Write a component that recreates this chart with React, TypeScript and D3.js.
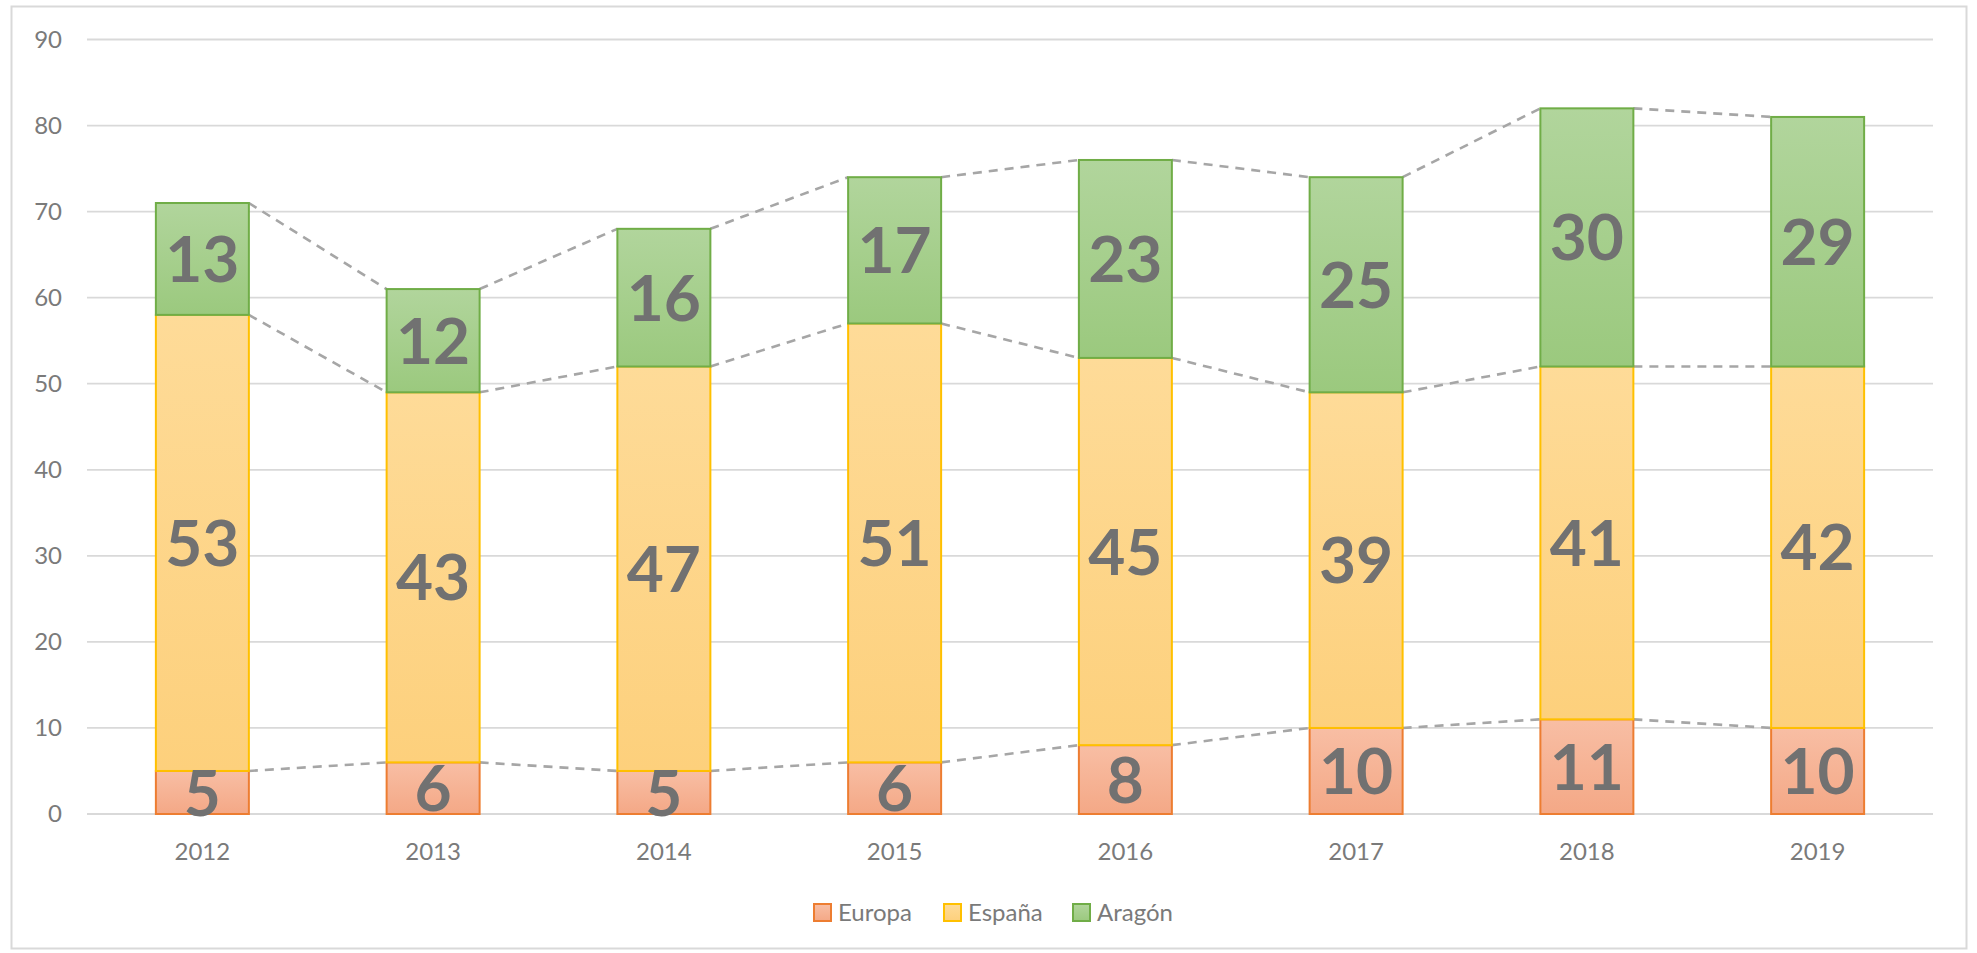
import { useEffect, useRef } from 'react';
import * as d3 from 'd3';

const years = ['2012', '2013', '2014', '2015', '2016', '2017', '2018', '2019'];
const europa = [5, 6, 5, 6, 8, 10, 11, 10];
const espana = [53, 43, 47, 51, 45, 39, 41, 42];
const aragon = [13, 12, 16, 17, 23, 25, 30, 29];
const yTicks = [0, 10, 20, 30, 40, 50, 60, 70, 80, 90];

const seriesInfo = [
  { key: 'europa', label: 'Europa', values: europa, stroke: '#ed7d31', top: '#f8bea4', bottom: '#f4a886' },
  { key: 'espana', label: 'España', values: espana, stroke: '#ffc000', top: '#fedb98', bottom: '#fdd07c' },
  { key: 'aragon', label: 'Aragón', values: aragon, stroke: '#70ad47', top: '#b1d59c', bottom: '#9bc97e' },
];

const W = 1977;
const H = 953;

export default function App() {
  const svgRef = useRef<SVGSVGElement>(null);

  useEffect(() => {
    if (!svgRef.current) return;
    const svg = d3.select(svgRef.current);
    svg.selectAll('*').remove();

    const left = 87;
    const right = 1933;
    const font = 'Lato, "Open Sans", sans-serif';

    const x = d3.scaleBand<string>().domain(years).range([left, right]).padding(0);
    const y = d3.scaleLinear().domain([0, 90]).range([814, 39.5]);
    const barW = x.bandwidth() * 0.403;
    const bx = (yr: string) => (x(yr) as number) + x.bandwidth() / 2 - barW / 2;

    // gradients
    const defs = svg.append('defs');
    seriesInfo.forEach((s) => {
      const lg = defs.append('linearGradient')
        .attr('id', `grad-${s.key}`)
        .attr('x1', 0).attr('y1', 0).attr('x2', 0).attr('y2', 1);
      lg.append('stop').attr('offset', '0%').attr('stop-color', s.top);
      lg.append('stop').attr('offset', '100%').attr('stop-color', s.bottom);
    });

    // chart border
    svg.append('rect')
      .attr('x', 11.5).attr('y', 6.5)
      .attr('width', 1955).attr('height', 942)
      .attr('fill', 'white')
      .attr('stroke', '#d9d9d9')
      .attr('stroke-width', 2);

    // gridlines
    svg.append('g')
      .selectAll('line')
      .data(yTicks)
      .join('line')
      .attr('x1', left).attr('x2', right)
      .attr('y1', (d) => y(d)).attr('y2', (d) => y(d))
      .attr('stroke', '#d9d9d9')
      .attr('stroke-width', 1.8);

    // y labels
    svg.append('g')
      .selectAll('text')
      .data(yTicks)
      .join('text')
      .attr('x', 62)
      .attr('y', (d) => y(d))
      .attr('dy', '0.35em')
      .attr('text-anchor', 'end')
      .attr('font-family', font)
      .attr('font-size', 24)
      .attr('fill', '#7a7a7a')
      .text((d) => d);

    // stacked data
    const stackData = years.map((yr, i) => ({
      year: yr,
      europa: europa[i],
      espana: espana[i],
      aragon: aragon[i],
    }));
    const stacked = d3.stack<any>().keys(seriesInfo.map((s) => s.key))(stackData);

    // series lines (dashed connectors)
    const lineG = svg.append('g');
    stacked.forEach((layer) => {
      for (let i = 0; i < layer.length - 1; i++) {
        lineG.append('line')
          .attr('x1', bx(years[i]) + barW)
          .attr('y1', y(layer[i][1]))
          .attr('x2', bx(years[i + 1]))
          .attr('y2', y(layer[i + 1][1]))
          .attr('stroke', '#a6a6a6')
          .attr('stroke-width', 2.6)
          .attr('stroke-dasharray', '9,7');
      }
    });

    // bars
    stacked.forEach((layer, si) => {
      const s = seriesInfo[si];
      svg.append('g')
        .selectAll('rect')
        .data(layer)
        .join('rect')
        .attr('x', (d: any) => bx(d.data.year))
        .attr('y', (d: any) => y(d[1]))
        .attr('width', barW)
        .attr('height', (d: any) => y(d[0]) - y(d[1]))
        .attr('fill', `url(#grad-${s.key})`)
        .attr('stroke', s.stroke)
        .attr('stroke-width', 2);
    });

    // data labels
    stacked.forEach((layer, si) => {
      const s = seriesInfo[si];
      svg.append('g')
        .selectAll('text')
        .data(layer)
        .join('text')
        .attr('x', (d: any) => (x(d.data.year) as number) + x.bandwidth() / 2)
        .attr('y', (d: any) => y((d[0] + d[1]) / 2))
        .attr('dy', '0.36em')
        .attr('text-anchor', 'middle')
        .attr('font-family', font)
        .attr('font-weight', 'bold')
        .attr('font-size', 64)
        .attr('fill', '#717171')
        .text((d: any) => d.data[s.key]);
    });

    // x labels
    svg.append('g')
      .selectAll('text')
      .data(years)
      .join('text')
      .attr('x', (d) => (x(d) as number) + x.bandwidth() / 2)
      .attr('y', 852)
      .attr('dy', '0.35em')
      .attr('text-anchor', 'middle')
      .attr('font-family', font)
      .attr('font-size', 24)
      .attr('fill', '#7a7a7a')
      .text((d) => d);

    // legend
    const legendX = [814, 944, 1073];
    const legend = svg.append('g');
    seriesInfo.forEach((s, i) => {
      legend.append('rect')
        .attr('x', legendX[i])
        .attr('y', 904)
        .attr('width', 17)
        .attr('height', 17)
        .attr('fill', `url(#grad-${s.key})`)
        .attr('stroke', s.stroke)
        .attr('stroke-width', 2);
      legend.append('text')
        .attr('x', legendX[i] + 24)
        .attr('y', 913)
        .attr('dy', '0.35em')
        .attr('font-family', font)
        .attr('font-size', 24)
        .attr('fill', '#7a7a7a')
        .text(s.label);
    });
  }, []);

  return (
    <svg
      ref={svgRef}
      width={W}
      height={H}
      style={{ position: 'absolute', left: 0, top: 0, background: 'white' }}
    />
  );
}
